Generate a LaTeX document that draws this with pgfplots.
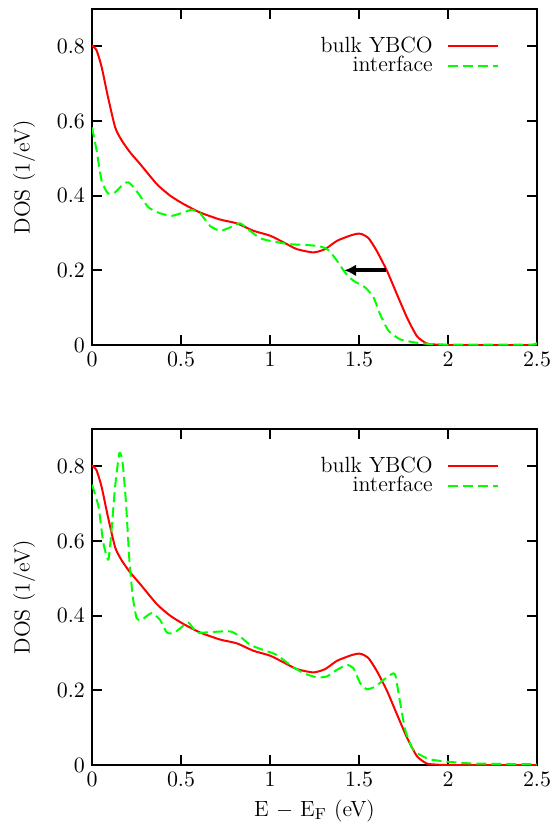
\documentclass[border=0pt]{standalone}
\usepackage{pgfplots}
\pgfplotsset{compat=1.18}
\usepackage{pgfplotstable}
\usetikzlibrary{arrows.meta}

% bulk YBCO, same curve in both panels
\pgfplotstableread{
E DOS
0.000 0.803
0.026 0.789
0.054 0.745
0.090 0.664
0.130 0.583
0.167 0.548
0.214 0.516
0.270 0.485
0.364 0.431
0.439 0.400
0.513 0.378
0.607 0.355
0.720 0.336
0.813 0.326
0.907 0.306
1.000 0.293
1.076 0.275
1.150 0.257
1.244 0.248
1.310 0.257
1.376 0.279
1.450 0.293
1.490 0.298
1.516 0.297
1.554 0.286
1.600 0.252
1.657 0.199
1.713 0.136
1.770 0.073
1.825 0.024
1.880 0.004
1.940 0.001
2.000 0.000
2.500 0.000
}\bulk

\pgfplotstableread{
E DOS
0.000 0.583
0.026 0.521
0.054 0.440
0.090 0.406
0.130 0.409
0.176 0.431
0.204 0.436
0.242 0.418
0.317 0.369
0.382 0.353
0.448 0.346
0.513 0.355
0.560 0.362
0.607 0.353
0.663 0.319
0.720 0.306
0.776 0.315
0.832 0.326
0.888 0.306
0.945 0.286
1.020 0.277
1.113 0.270
1.207 0.268
1.282 0.264
1.329 0.254
1.376 0.226
1.422 0.194
1.469 0.172
1.535 0.154
1.582 0.127
1.619 0.082
1.666 0.038
1.732 0.015
1.825 0.006
1.920 0.002
2.050 0.001
2.460 0.001
2.500 0.006
}\ifaceA

\pgfplotstableread{
E DOS
0.000 0.751
0.036 0.693
0.064 0.594
0.092 0.550
0.110 0.630
0.130 0.746
0.154 0.836
0.172 0.810
0.191 0.702
0.210 0.550
0.229 0.451
0.251 0.393
0.279 0.389
0.335 0.407
0.382 0.389
0.420 0.355
0.457 0.353
0.495 0.366
0.541 0.382
0.588 0.355
0.663 0.356
0.776 0.358
0.832 0.344
0.888 0.322
0.963 0.308
1.038 0.295
1.113 0.268
1.188 0.246
1.263 0.235
1.319 0.237
1.376 0.255
1.432 0.268
1.469 0.259
1.507 0.219
1.544 0.203
1.591 0.210
1.638 0.228
1.685 0.244
1.704 0.241
1.732 0.165
1.760 0.094
1.798 0.045
1.844 0.027
1.900 0.015
1.994 0.009
2.144 0.004
2.500 0.002
}\ifaceB

\pgfplotsset{
  dospanel/.style={
    scale only axis,
    width=222.5pt, height=168pt,
    xmin=0, xmax=2.5, ymin=0, ymax=0.9,
    xtick={0,0.5,...,2.5},
    ytick={0,0.2,...,0.8},
    ylabel={DOS (1/eV)},
    axis line style={line width=1pt},
    major tick style={line width=1pt, black},
    major tick length=5pt,
    ylabel style={yshift=4pt},
    legend plot pos=right,
    legend cell align=right,
    legend style={draw=none, fill=none, at={(0.915,0.93)}, anchor=north east,
      inner sep=0pt, row sep=-3.5pt, column sep=5pt,
      nodes={inner sep=2pt}},
    legend image code/.code={\draw[#1] (0pt,0pt) -- (25pt,0pt);},
  },
  bulkline/.style={red, line width=1pt, line join=round, smooth, tension=0.35},
  ifaceline/.style={green, line width=1pt, line join=round, smooth, tension=0.35,
    dash pattern=on 5pt off 2.5pt},
}

\begin{document}
\begin{tikzpicture}[font=\fontsize{11}{13.2}\selectfont]
\begin{axis}[dospanel]
\addplot[bulkline] table[x=E,y=DOS] {\bulk};
\addlegendentry{bulk YBCO}
\addplot[ifaceline] table[x=E,y=DOS] {\ifaceA};
\addlegendentry{interface}
\draw[line width=2pt, -{Latex[length=6pt,width=6pt]}] (axis cs:1.653,0.2) -- (axis cs:1.417,0.2);
\end{axis}
\begin{axis}[dospanel, at={(0,-210pt)}, xlabel={E $-$ E$_{\mathrm{F}}$ (eV)}]
\addplot[bulkline] table[x=E,y=DOS] {\bulk};
\addlegendentry{bulk YBCO}
\addplot[ifaceline] table[x=E,y=DOS] {\ifaceB};
\addlegendentry{interface}
\end{axis}
\pgfresetboundingbox
\path[use as bounding box] (-46pt,-241pt) rectangle (232.5pt,172.5pt);
\end{tikzpicture}
\end{document}
